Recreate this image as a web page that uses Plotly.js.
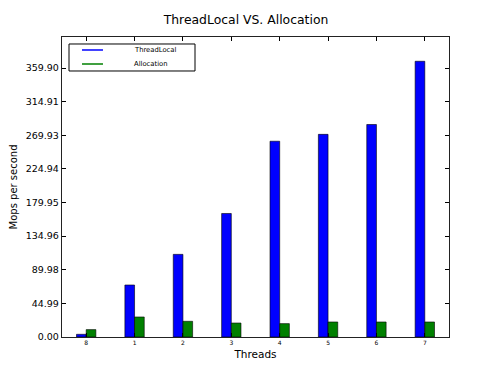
<!DOCTYPE html>
<html>
<head>
<meta charset="utf-8">
<script src="https://cdn.plot.ly/plotly-3.0.1.min.js"></script>
<style>html,body{margin:0;padding:0;background:#fff;}#chart{width:500px;height:375px;}</style>
</head>
<body>
<div id="chart"></div>
<script>
var threads = [0, 1, 2, 3, 4, 5, 6, 7];
var threadLabels = ["8", "1", "2", "3", "4", "5", "6", "7"];
var threadLocal = [3.6, 69.6, 110.6, 165.3, 262.0, 271.2, 284.4, 369.0];
var allocation = [9.9, 26.8, 21.0, 18.7, 17.9, 20.1, 20.1, 20.1];
var yTickVals = [0, 44.99, 89.98, 134.96, 179.95, 224.94, 269.93, 314.91, 359.90];
var yTickText = ["0.00", "44.99", "89.98", "134.96", "179.95", "224.94", "269.93", "314.91", "359.90"];
var seriesNames = ["ThreadLocal", "Allocation"];

var font = "DejaVu Sans, sans-serif";
var traces = [
  {type: "bar", x: threads, y: threadLocal, name: seriesNames[0],
   marker: {color: "#0000ff", line: {color: "#000000", width: 0.6}}, showlegend: false},
  {type: "bar", x: threads, y: allocation, name: seriesNames[1],
   marker: {color: "#008000", line: {color: "#000000", width: 0.6}}, showlegend: false}
];

var layout = {
  width: 500, height: 375,
  margin: {l: 62, r: 51, t: 37, b: 38},
  paper_bgcolor: "#ffffff", plot_bgcolor: "#ffffff",
  barmode: "group", bargap: 0.6, bargroupgap: 0,
  showlegend: false,
  title: {text: "ThreadLocal VS. Allocation", xref: "container", x: 0.492, xanchor: "center",
          yref: "container", y: 0.948, yanchor: "middle",
          font: {family: font, size: 12.4, color: "#000"}},
  xaxis: {range: [-0.5, 7.5], tickvals: threads, ticktext: threadLabels,
          ticks: "inside", ticklen: 4, tickcolor: "#000", showline: true, linecolor: "#222",
          linewidth: 1.2, mirror: "ticks", showgrid: false, zeroline: false,
          tickfont: {family: font, size: 6, color: "#000"},
          title: {text: "Threads", font: {family: font, size: 10.5, color: "#000"}, standoff: 5}},
  yaxis: {range: [0, 401.5], tickvals: yTickVals, ticktext: yTickText,
          ticks: "inside", ticklen: 4, tickcolor: "#000", showline: true, linecolor: "#222",
          linewidth: 1.2, mirror: "ticks", showgrid: false, zeroline: false,
          tickfont: {family: font, size: 9.5, color: "#000"},
          title: {text: "Mops per second", font: {family: font, size: 10, color: "#000"}, standoff: 6}},
  shapes: [
    {type: "rect", xref: "paper", yref: "paper", x0: 0.0181, x1: 0.3437, y0: 0.8867, y1: 0.9767,
     line: {color: "#000", width: 1}, fillcolor: "#fff"},
    {type: "line", xref: "paper", yref: "paper", x0: 0.0517, x1: 0.1059, y0: 0.9567, y1: 0.9567,
     line: {color: "#0000ff", width: 1.5}},
    {type: "line", xref: "paper", yref: "paper", x0: 0.0517, x1: 0.1059, y0: 0.91, y1: 0.91,
     line: {color: "#008000", width: 1.5}}
  ],
  annotations: [
    {xref: "paper", yref: "paper", x: 0.1809, y: 0.9567, xanchor: "left", yanchor: "middle",
     text: seriesNames[0], showarrow: false, font: {family: font, size: 6.8, color: "#000"}},
    {xref: "paper", yref: "paper", x: 0.1809, y: 0.91, xanchor: "left", yanchor: "middle",
     text: seriesNames[1], showarrow: false, font: {family: font, size: 6.8, color: "#000"}}
  ]
};

Plotly.newPlot("chart", traces, layout, {staticPlot: true, displayModeBar: false});
</script>
</body>
</html>
